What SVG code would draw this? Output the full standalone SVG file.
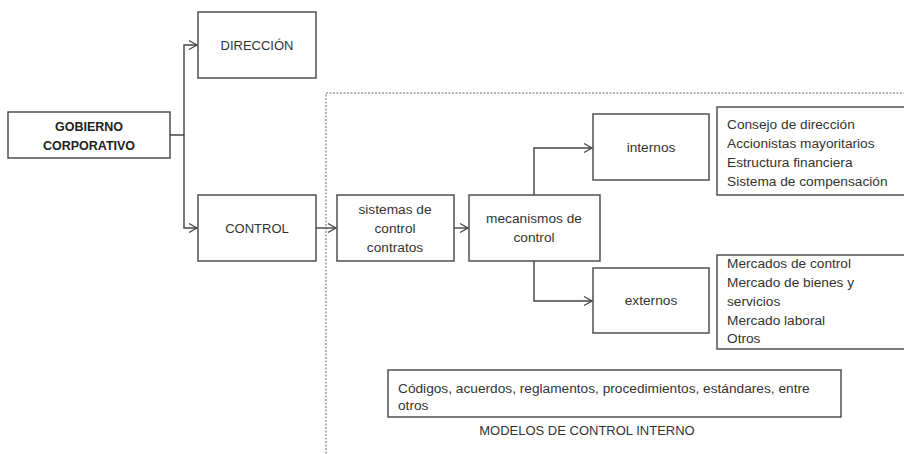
<svg xmlns="http://www.w3.org/2000/svg" width="904" height="454" viewBox="0 0 904 454">
<defs>
<marker id="arr" markerWidth="12" markerHeight="12" refX="10" refY="6" orient="auto" markerUnits="userSpaceOnUse">
<polyline points="2,1.5 10,6 2,10.5" fill="none" stroke="#444" stroke-width="1.3"/>
</marker>
<style>
.box{fill:#fff;stroke:#444;stroke-width:1.4}
.t{font-family:"Liberation Sans",Arial,sans-serif;font-size:13.7px;fill:#333}
.u{font-size:13px}
.c{text-anchor:middle}
.b{font-weight:bold;font-size:12.5px;fill:#222}
.ln{fill:none;stroke:#444;stroke-width:1.4}
</style>
</defs>
<rect x="0" y="0" width="904" height="454" fill="#fff"/>
<rect x="326" y="93" width="600" height="380" fill="none" stroke="#666" stroke-width="1" stroke-dasharray="2,1.5"/>
<g id="connectors">
<polyline class="ln" points="170,135 184,135 184,45 197,45" marker-end="url(#arr)"/>
<polyline class="ln" points="184,135 184,228 197,228" marker-end="url(#arr)"/>
<polyline class="ln" points="316,228 336,228" marker-end="url(#arr)"/>
<polyline class="ln" points="454,228 468,228" marker-end="url(#arr)"/>
<polyline class="ln" points="534,195 534,148 592,148" marker-end="url(#arr)"/>
<polyline class="ln" points="534,261 534,301 592,301" marker-end="url(#arr)"/>
</g>
<g id="gobierno">
<rect class="box" x="8" y="112" width="162" height="46"/>
<text class="t c b" x="89" y="131">GOBIERNO</text>
<text class="t c b" x="89" y="150">CORPORATIVO</text>
</g>
<g id="direccion">
<rect class="box" x="198" y="12" width="118" height="66"/>
<text class="t c u" x="257" y="50">DIRECCIÓN</text>
</g>
<g id="control">
<rect class="box" x="198" y="195" width="118" height="66"/>
<text class="t c u" x="257" y="233">CONTROL</text>
</g>
<g id="sistemas">
<rect class="box" x="337" y="195" width="117" height="66"/>
<text class="t c" x="395" y="214">sistemas de</text>
<text class="t c" x="395" y="233">control</text>
<text class="t c" x="395" y="252">contratos</text>
</g>
<g id="mecanismos">
<rect class="box" x="469" y="195" width="131" height="66"/>
<text class="t c" x="534" y="223">mecanismos de</text>
<text class="t c" x="534" y="242">control</text>
</g>
<g id="internos">
<rect class="box" x="593" y="114" width="116" height="66"/>
<text class="t c" x="651" y="152">internos</text>
</g>
<g id="externos">
<rect class="box" x="593" y="268" width="116" height="65"/>
<text class="t c" x="651" y="305">externos</text>
</g>
<g id="internos-lista">
<rect class="box" x="717" y="107" width="200" height="88"/>
<text class="t" x="727" y="129">Consejo de dirección</text>
<text class="t" x="727" y="148">Accionistas mayoritarios</text>
<text class="t" x="727" y="167">Estructura financiera</text>
<text class="t" x="727" y="186">Sistema de compensación</text>
</g>
<g id="externos-lista">
<rect class="box" x="717" y="255" width="200" height="94"/>
<text class="t" x="727" y="268">Mercados de control</text>
<text class="t" x="727" y="287">Mercado de bienes y</text>
<text class="t" x="727" y="306">servicios</text>
<text class="t" x="727" y="325">Mercado laboral</text>
<text class="t" x="727" y="343">Otros</text>
</g>
<g id="codigos">
<rect class="box" x="388" y="370" width="453" height="47"/>
<text class="t" x="398" y="393">Códigos, acuerdos, reglamentos, procedimientos, estándares, entre</text>
<text class="t" x="398" y="410">otros</text>
</g>
<g id="modelos">
<text class="t c u" x="587" y="435">MODELOS DE CONTROL INTERNO</text>
</g>
</svg>
